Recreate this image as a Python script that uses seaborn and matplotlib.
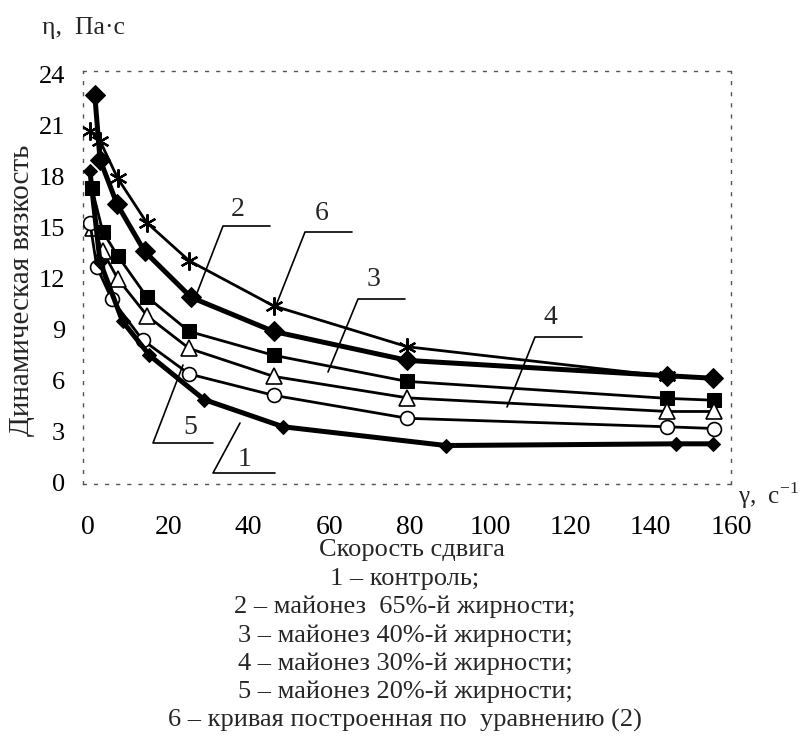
import matplotlib
matplotlib.use("Agg")
import matplotlib.pyplot as plt
import seaborn as sns
import pandas as pd

# ---------------- data ----------------
x1 = [0.5, 3.0, 8.6, 15.3, 28.9, 48.6, 89.1, 146.2, 155.6]
y1 = [18.3, 13.0, 9.5, 7.5, 4.9, 3.3, 2.2, 2.3, 2.3]          # 1 – контроль

x2 = [1.7, 3.0, 7.2, 14.1, 25.7, 46.2, 79.5, 144.2, 155.6]
y2 = [22.8, 19.0, 16.4, 13.6, 10.9, 8.9, 7.2, 6.3, 6.15]      # 2 – 65 %

x3 = [1.0, 3.7, 7.4, 14.6, 25.2, 46.2, 79.3, 144.2, 155.8]
y3 = [17.3, 14.75, 13.35, 10.95, 8.9, 7.5, 5.97, 4.97, 4.86]  # 3 – 40 %

x4 = [1.2, 3.7, 7.4, 14.8, 25.2, 46.2, 79.5, 144.2, 155.8]
y4 = [15.0, 13.6, 12.0, 9.8, 7.9, 6.26, 5.0, 4.2, 4.2]        # 4 – 30 %

x5 = [0.5, 2.2, 5.9, 13.6, 25.2, 46.2, 79.5, 144.2, 155.8]
y5 = [15.3, 12.7, 10.8, 8.4, 6.4, 5.15, 3.8, 3.3, 3.2]        # 5 – 20 %

x6 = [0.5, 3.0, 7.4, 14.6, 25.2, 46.2, 79.5, 144.2]
y6 = [20.7, 20.1, 17.9, 15.3, 13.05, 10.4, 8.0, 6.26]         # 6 – по уравнению (2)

x_ticks = [0, 20, 40, 60, 80, 100, 120, 140, 160]
y_ticks = [0, 3, 6, 9, 12, 15, 18, 21, 24]

legend_lines = [
    "1 – контроль;",
    "2 – майонез  65%-й жирности;",
    "3 – майонез 40%-й жирности;",
    "4 – майонез 30%-й жирности;",
    "5 – майонез 20%-й жирности;",
    "6 – кривая построенная по  уравнению (2)",
]

# ---------------- style ----------------
sns.set_theme(style="white")
plt.rcParams["font.family"] = ["Liberation Serif", "DejaVu Serif"]
plt.rcParams["mathtext.fontset"] = "custom"
plt.rcParams["mathtext.rm"] = "Liberation Serif"

W, H = 808, 750
fig = plt.figure(figsize=(W / 100, H / 100), dpi=100)
L, R, T, B = 83, 731, 71, 484
ax = fig.add_axes([L / W, 1 - B / H, (R - L) / W, (B - T) / H])

def frame(x, y, name):
    return pd.DataFrame({"x": x, "y": y, "s": name})

series = [
    (x6, y6, dict(marker=(6, 2, 0), markersize=13, markeredgewidth=1.6,
                  lw=2.0, mfc="black", mec="black")),
    (x2, y2, dict(marker="D", markersize=10, lw=3.6, mfc="black", mec="black")),
    (x3, y3, dict(marker="s", markersize=10, lw=2.0, mfc="black", mec="black")),
    (x4, y4, dict(marker="^", markersize=11, lw=2.0, mfc="white", mec="black",
                  markeredgewidth=1.2)),
    (x5, y5, dict(marker="o", markersize=10, lw=2.0, mfc="white", mec="black",
                  markeredgewidth=1.2)),
    (x1, y1, dict(marker="D", markersize=7, lw=3.6, mfc="black", mec="black")),
]
for i, (xs, ys, kw) in enumerate(series):
    df = frame(xs, ys, str(i))
    sns.lineplot(data=df, x="x", y="y", ax=ax, color="black", sort=False,
                 estimator=None, legend=False, zorder=3 + i, **kw)

ax.set_xlim(-1.23, 158.8)
ax.set_ylim(-0.06, 24.2)
ax.set_xticks(x_ticks)
ax.set_yticks(y_ticks)
ax.set_xticklabels([str(v) for v in x_ticks], fontsize=20)
ax.set_yticklabels([str(v) for v in y_ticks], fontsize=19)
ax.tick_params(axis="x", length=0, pad=22, colors="black")
ax.tick_params(axis="y", length=3, width=0.8, pad=10, colors="black",
               direction="out")
ax.set_xlabel("")
ax.set_ylabel("")
for sp in ax.spines.values():
    sp.set_linestyle((0, (2, 6)))
    sp.set_linewidth(1.0)
    sp.set_color("#555555")

# ---------------- curve labels with leader lines (axes fractions) ----------------
def ax_frac(px, py):
    return ((px - L) / (R - L), (B - py) / (B - T))

leaders = [
    ("2", (238, 210), [(197, 293), (223, 226), (270, 226)]),
    ("6", (322, 213), [(275, 308), (305, 232), (352, 232)]),
    ("3", (374, 280), [(328, 372), (358, 299), (405, 299)]),
    ("4", (550, 318), [(507, 407), (535, 337), (582, 337)]),
    ("5", (190, 428), [(183, 365), (153, 443), (213, 443)]),
    ("1", (245, 460), [(240, 423), (213, 473), (275, 473)]),
]
for lab, tpos, pts in leaders:
    fx = [ax_frac(*p)[0] for p in pts]
    fy = [ax_frac(*p)[1] for p in pts]
    ax.plot(fx, fy, transform=ax.transAxes, color="black", lw=1.2,
            zorder=10, clip_on=False)
    tx, ty = ax_frac(*tpos)
    ax.text(tx, ty, lab, transform=ax.transAxes, fontsize=20,
            ha="center", va="center", zorder=11)

# ---------------- texts ----------------
def fig_text(px, py, s, **kw):
    fig.text(px / W, 1 - py / H, s, **kw)

fig_text(42, 28, "η,  Па·с", fontsize=18.5, ha="left", va="center")
fig_text(738, 496, "γ,  с$^{-1}$", fontsize=18, ha="left", va="center")
fig_text(22, 290, "Динамическая вязкость", fontsize=21, rotation=90,
         ha="center", va="center")
fig_text(412, 550, "Скорость сдвига", fontsize=19, ha="center", va="center")
for k, line in enumerate(legend_lines):
    fig_text(405, 579 + k * 28.2, line, fontsize=19, ha="center", va="center")

fig.savefig("out.png", dpi=100, facecolor="white")
